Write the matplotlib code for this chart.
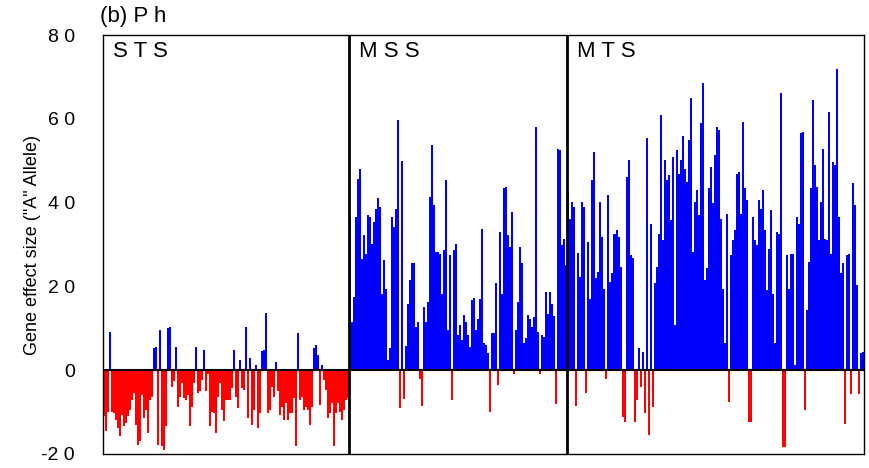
import numpy as np
import matplotlib
matplotlib.use("Agg")
import matplotlib.pyplot as plt

# ===============================
# DATA (gene effect sizes, "A" allele)
# ===============================
sts = [-11, -14.6, -10, 9, -10, -10.3, -11.8, -13.8, -15.8, -10.7,
       -13.4, -12.6, -11, -9.5, -7, -5.5, -13, -17.8, -17, -6,
       -11.5, -9.5, -15, -7, -6.3, 5.3, 5.5, -17.8, 9.6, -18,
       -19, -13.4, 10, 10.3, -4, -2.7, 5.6, -8.7, -6.3, -3,
       -6.7, -7, -6, -13.4, -8.7, -3, 5.6, -5.5, -5, -2.3,
       4.9, -5, -1, -13.4, -9.9, -10.3, -15, -6.3, -3, -9.5,
       -12.2, -7, -7, -7, -4.3, 4.9, -6.3, -9, 2.5, -4.3,
       -4.7, 10.3, -11.5, 2.9, -13, -9.5, 1.3, -13.8, -10.3, 4.5,
       4.9, 13.6, -10.3, -9.5, -4, -6.3, 1.9, -5, -10.7, -8.7,
       -11.8, -7.9, -11.8, -10.3, -10.3, -6.7, -18.2, 8.8, -7, -6.3,
       -9.5, -8.7, -9.5, -13, -8.7, 5.2, 6.0, 3.7, -8.3, 1.3,
       -2.3, -4.7, -11.5, -10.3, -7.9, -18.2, -10.3, -7.9, -9.9, -11.8,
       -9.5, -7, -6.7]

mss = [36, 11.5, 17.5, 36.6, 45.7, 48, 26.6, 32.2, 27.8, 37,
       36.6, 30.2, 35.4, 38.6, 41, 39, 18.3, 26.4, 19.5, 2.4,
       5.2, 36.6, 34.2, 38.6, 59.7, -9.1, 50, -6.8, 5.7, 15.9,
       21.5, 25.5, 25.5, 10.3, 11.5, -2, -8.6, 15.1, 11.5, 16.3,
       41.4, 53.7, 39.4, 28.2, 28.2, 27.8, 18.3, 28.6, 45.3, 9.5,
       27.4, -7.2, 28.6, 30.2, 8.4, 10.7, 7.2, 13.1, 11.5, 8.4,
       5.6, 16.7, 17.3, 9.5, 12.3, 17.1, 33.8, 6.4, 6, 4,
       -10, 8.8, 8.8, 20.7, -3.6, 33, 18.3, 43.4, 43.8, 32.2,
       29.4, 37.8, -1, 9.5, 16.3, 29.4, 25.5, 6.4, 7.6, 13.1,
       12.3, 10.3, 12.7, 58.1, 9.1, -0.8, 8.4, 8, 18.7, 13.5,
       18.7, 15.9, 12.9, -8, 52.9, 52.5, 29.8, 31.4, 25]

mts = [42.6, 36, 40.2, 39, -8.5, 28, 22.3, 40.2, 39, -5.5,
       30.6, 17.1, 45.3, 52.1, 21.9, 23.5, 40.2, 31.8, 19.5, -2.2,
       41.8, 21.1, 23.1, 32.6, 33.4, 31.8, 24.7, -11.1, -12.3, 46.1,
       50.3, 27.4, 26.9, -12.3, -7.2, 5.2, -4, 4.4, -10.3, 55.5,
       -15.5, 35, -8.8, 20.7, 24.7, 32.6, 60.9, 31, 50.3, 45.3,
       46.5, 35.8, 50.9, 10.7, 52.5, 46.9, 50.1, 55.8, 48.1, 45,
       54.9, 65.1, 28.2, 40.2, 43, 37, 58.9, 68.6, 21.5, 24.3,
       43.4, 48.5, 39.8, 51.3, 58.1, 57.3, 36.2, 19.5, 6.4, 37.4,
       -7.6, 27.4, 31, 33.4, 46.9, 47.3, 37.4, 59.3, 43.4, 40.6,
       -12.3, -12.3, 36.6, 31, 29.8, 40.6, 38.6, 43, 33.4, 19.1,
       29, 38.2, 18.3, 6.4, 33, 32.6, 66.2, -18.3, -18.3, 27.4,
       19.5, 27.8, 27.8, 1.2, 36.6, 35, 56.6, 56.9, -9.5, 14.3,
       25.9, 43.4, 64.4, 48.9, 43.8, 31, 40.2, 52.9, 31.4, 31,
       61.7, 27.8, 49.7, 48.9, 72, 36.6, 23.1, 25.6, -12.9, 27.4,
       27.8, -5.6, 44.6, 39.4, 20.3, -5.6, 4, 4.4]

panel_names = ["S T S", "M S S", "M T S"]
ytick_vals = [-20, 0, 20, 40, 60, 80]
ytick_text = ["-2 0", "0", "2 0", "4 0", "6 0", "8 0"]

# ===============================
# PLOT
# ===============================
plt.rcParams['font.family'] = ['Liberation Sans', 'DejaVu Sans']

values = np.array(sts + mss + mts)
xpos = np.arange(len(values))
colors = np.where(values >= 0, "#0000FF", "#FF0000")
bounds = [0, len(sts), len(sts) + len(mss), len(values)]

fig = plt.figure(figsize=(8.7, 4.68), dpi=100)
ax = fig.add_axes([0.118, 0.030, 0.875, 0.895])

ax.bar(xpos, values, width=1.0, align="edge", color=colors,
       linewidth=0, antialiased=False)

ax.axhline(0, color="black", lw=1.5, zorder=3)
for b in bounds[1:-1]:
    ax.axvline(b, color="black", lw=2, zorder=3)

for name, b in zip(panel_names, bounds[:-1]):
    ax.text(b + 5, 76, name, fontsize=16, va="center", ha="left")

ax.set_xlim(0, len(values))
ax.set_ylim(-20, 80)
ax.set_xticks([])
ax.set_yticks(ytick_vals)
ax.set_yticklabels(ytick_text, fontsize=14)
ax.tick_params(axis="y", length=0, pad=20)
ax.set_ylabel('Gene effect size ("A" Allele)', fontsize=13, labelpad=0)

for sp in ax.spines.values():
    sp.set_linewidth(1.0)
    sp.set_color("black")

fig.text(0.115, 0.965, "(b) P h", fontsize=16, va="center", ha="left")

plt.savefig("out.png", dpi=100)
